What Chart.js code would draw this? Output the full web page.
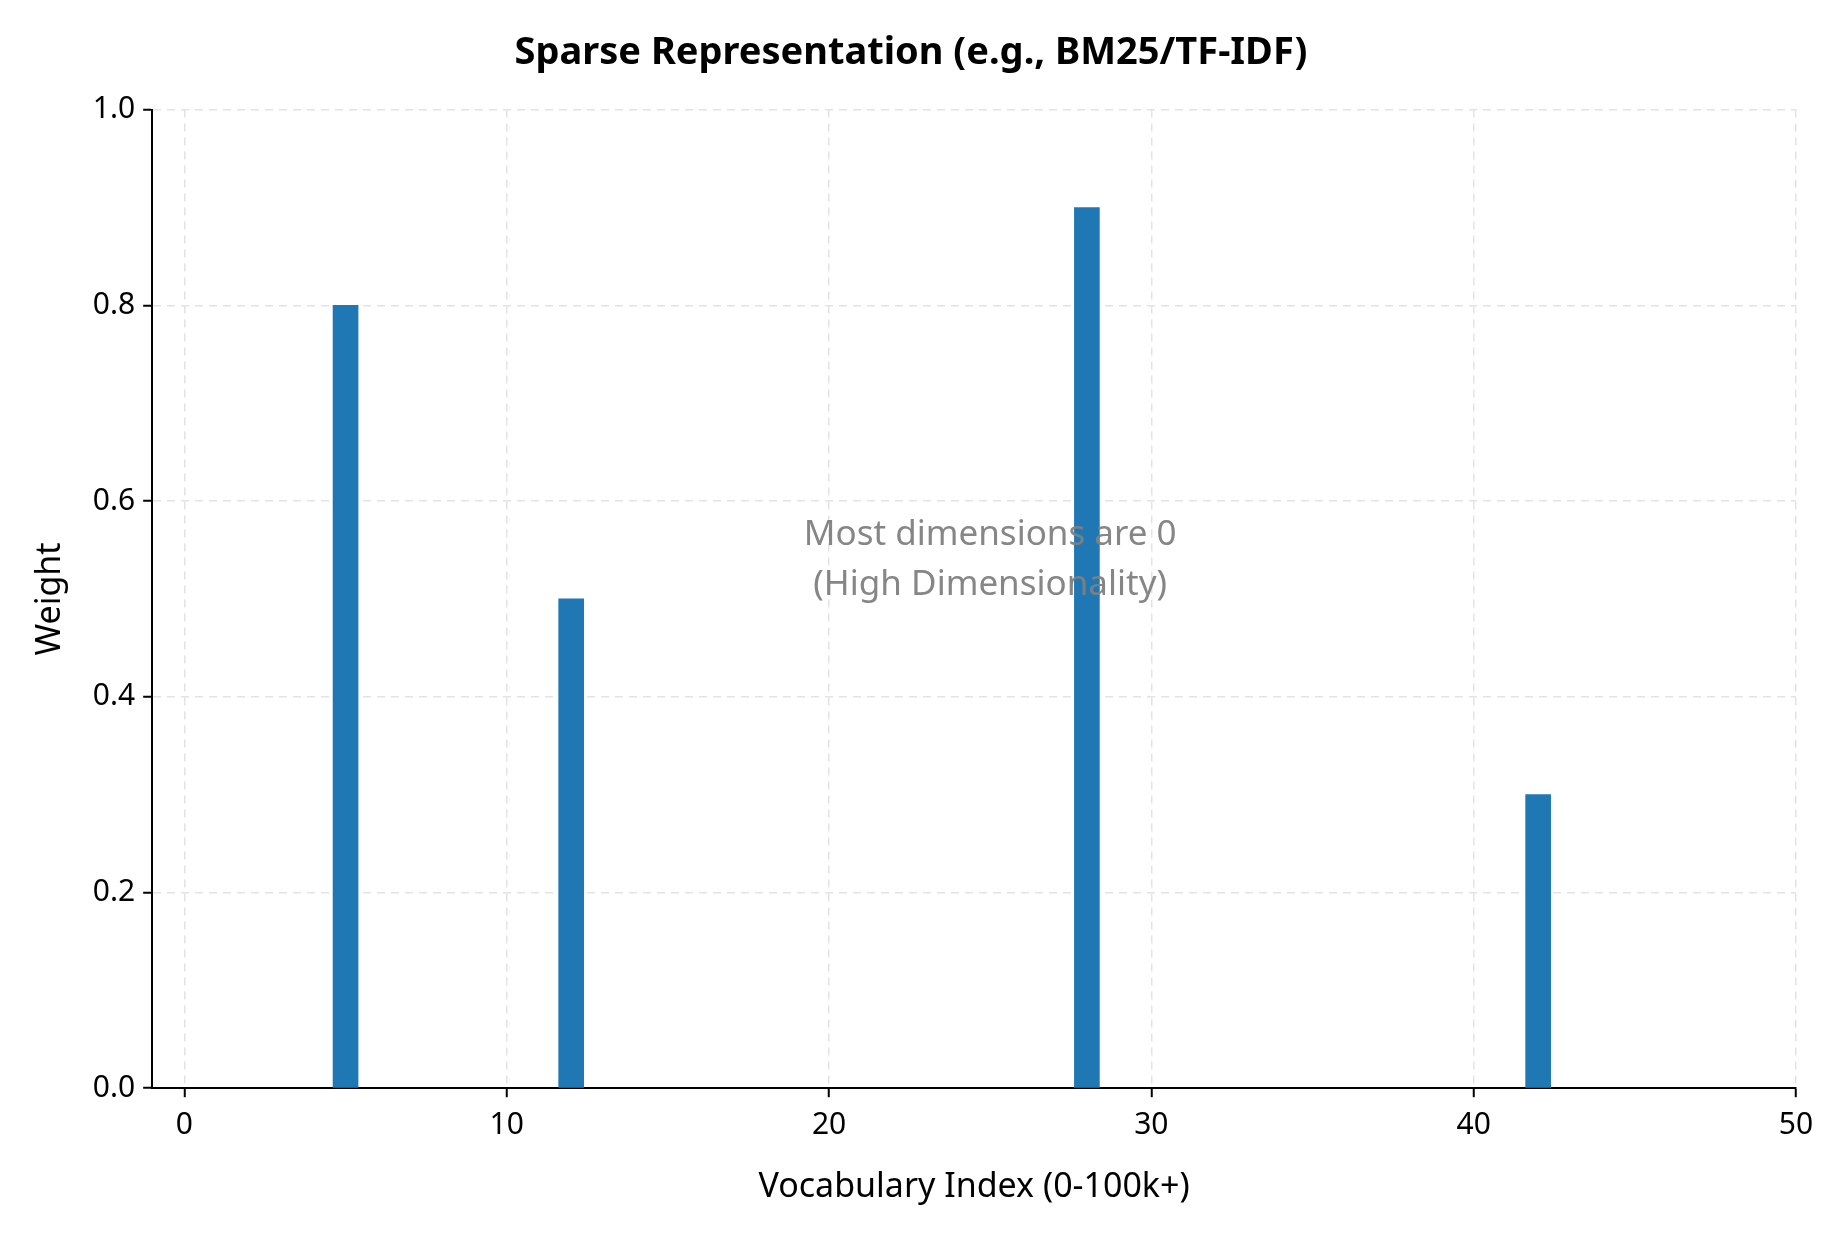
<!DOCTYPE html>
<html lang="en">
<head>
    <meta charset="UTF-8">
    <title>Sparse Representation</title>
    <script src="https://cdn.jsdelivr.net/npm/chart.js"></script>
    <style>
        body { margin: 0; background: #fff; }
        .wrap { width: 1834px; height: 1234px; }
    </style>
</head>
<body>
    <div class="wrap"><canvas id="sparseChart" width="1834" height="1234"></canvas></div>
    <script>
        // vocabulary indices with non-zero weight
        const indices = [5, 12, 28, 42];
        const weights = [0.8, 0.5, 0.9, 0.3];
        const xTicks = [0, 10, 20, 30, 40, 50];
        const yTicks = [0, 0.2, 0.4, 0.6, 0.8, 1.0];
        const note = ['Most dimensions are 0', '(High Dimensionality)'];
        const notePos = { x: 25, y: 0.54 };

        const font = "'Noto Sans', sans-serif";

        const notePlugin = {
            id: 'note',
            afterDatasetsDraw(chart) {
                const { ctx, scales } = chart;
                const cx = scales.x.getPixelForValue(notePos.x);
                const cy = scales.y.getPixelForValue(notePos.y);
                ctx.save();
                ctx.font = '35px ' + font;
                ctx.fillStyle = 'rgba(128,128,128,0.95)';
                ctx.textAlign = 'center';
                ctx.textBaseline = 'middle';
                ctx.fillText(note[0], cx, cy - 25);
                ctx.fillText(note[1], cx, cy + 25);
                ctx.restore();
            }
        };

        new Chart(document.getElementById('sparseChart'), {
            type: 'bar',
            data: {
                datasets: [{
                    data: indices.map((v, i) => ({ x: v, y: weights[i] })),
                    backgroundColor: '#1f77b4',
                    barThickness: 25
                }]
            },
            options: {
                responsive: false,
                devicePixelRatio: 1,
                animation: false,
                layout: { padding: { top: 10, right: 38, left: 26, bottom: 22 } },
                plugins: {
                    legend: { display: false },
                    tooltip: { enabled: false },
                    title: {
                        display: true,
                        text: 'Sparse Representation (e.g., BM25/TF-IDF)',
                        color: '#000',
                        font: { family: font, size: 38, weight: 'bold' },
                        padding: { top: 20, bottom: 34 }
                    }
                },
                scales: {
                    x: {
                        type: 'linear',
                        min: -1,
                        max: 50,
                        offset: false,
                        afterBuildTicks: s => { s.ticks = xTicks.map(v => ({ value: v })); },
                        grid: { offset: false, color: '#e3e3e3', lineWidth: 1.5, tickLength: 9, tickColor: '#000', tickWidth: 2 },
                        border: { color: '#000', width: 2, dash: [8, 6] },
                        ticks: { color: '#000', font: { family: font, size: 30 }, padding: 10, maxRotation: 0 },
                        title: { display: true, text: 'Vocabulary Index (0-100k+)', color: '#000', font: { family: font, size: 34 }, padding: { top: 14 } }
                    },
                    y: {
                        min: 0,
                        max: 1,
                        afterBuildTicks: s => { s.ticks = yTicks.map(v => ({ value: v })); },
                        grid: { color: '#e3e3e3', lineWidth: 1.5, tickLength: 9, tickColor: '#000', tickWidth: 2 },
                        border: { color: '#000', width: 2, dash: [8, 6] },
                        ticks: { color: '#000', font: { family: font, size: 30 }, padding: 8, callback: v => v.toFixed(1) },
                        title: { display: true, text: 'Weight', color: '#000', font: { family: font, size: 34 }, padding: { bottom: 14 } }
                    }
                }
            },
            plugins: [notePlugin]
        });
    </script>
</body>
</html>
